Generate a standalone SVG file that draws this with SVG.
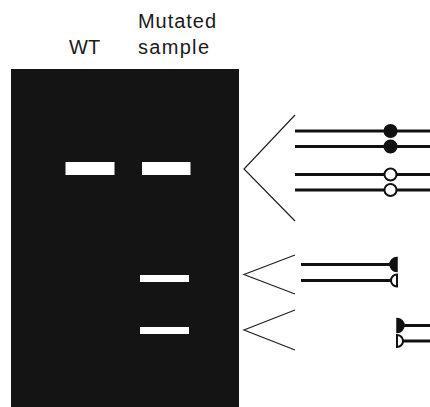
<svg xmlns="http://www.w3.org/2000/svg" width="430" height="407" viewBox="0 0 430 407">
  <style>
    .label { font-family: "Liberation Sans", Arial, sans-serif; font-size: 20px; fill: #1a1a1a; }
    .band { fill: #ffffff; }
    .strand { stroke: #111111; stroke-width: 3; fill: none; }
    .bracket { stroke: #222222; stroke-width: 1.2; fill: none; }
    .dot { fill: #111111; stroke: #111111; stroke-width: 1.5; }
    .ring { fill: #ffffff; stroke: #111111; stroke-width: 2; }
  </style>

  <!-- lane labels -->
  <g id="labels">
    <text class="label" x="69" y="54">WT</text>
    <text class="label" x="138" y="28" textLength="78" lengthAdjust="spacing">Mutated</text>
    <text class="label" x="138" y="54" textLength="71" lengthAdjust="spacing">sample</text>
  </g>

  <!-- gel with bands -->
  <g id="gel">
    <rect x="11" y="69" width="228" height="338" fill="#141414"/>
    <rect class="band" x="65.5" y="162" width="49" height="13"/>
    <rect class="band" x="142" y="162" width="48.5" height="13"/>
    <rect class="band" x="140" y="275" width="49" height="7"/>
    <rect class="band" x="140" y="327" width="49" height="7"/>
  </g>

  <!-- brackets linking bands to products -->
  <g id="connectors">
    <polyline class="bracket" points="295,115 244,169 295,221"/>
    <polyline class="bracket" points="295,255 244,274.5 295,294"/>
    <polyline class="bracket" points="295,310 244,330 295,350"/>
  </g>

  <!-- full-length duplexes -->
  <g id="full-length">
    <line class="strand" x1="295" y1="131" x2="430" y2="131"/>
    <line class="strand" x1="295" y1="146.5" x2="430" y2="146.5"/>
    <circle class="dot" cx="390.5" cy="131" r="6.3"/>
    <circle class="dot" cx="390.5" cy="146.5" r="6.3"/>
    <line class="strand" x1="295" y1="174.5" x2="430" y2="174.5"/>
    <line class="strand" x1="295" y1="190" x2="430" y2="190"/>
    <circle class="ring" cx="390.5" cy="174.5" r="6"/>
    <circle class="ring" cx="390.5" cy="190" r="6"/>
  </g>

  <!-- left cleavage fragment -->
  <g id="fragment-left">
    <line class="strand" x1="301" y1="264.5" x2="391" y2="264.5"/>
    <line class="strand" x1="301" y1="280.5" x2="391" y2="280.5"/>
    <path class="dot" d="M397,257.5 A7,7 0 0 0 397,271.5 Z"/>
    <path class="ring" d="M397,274.5 A6,6 0 0 0 397,286.5 Z"/>
  </g>

  <!-- right cleavage fragment -->
  <g id="fragment-right">
    <line class="strand" x1="403" y1="325.5" x2="430" y2="325.5"/>
    <line class="strand" x1="403" y1="341" x2="430" y2="341"/>
    <path class="dot" d="M397,318.5 A7,7 0 0 1 397,332.5 Z"/>
    <path class="ring" d="M397,335 A6,6 0 0 1 397,347 Z"/>
  </g>
</svg>
